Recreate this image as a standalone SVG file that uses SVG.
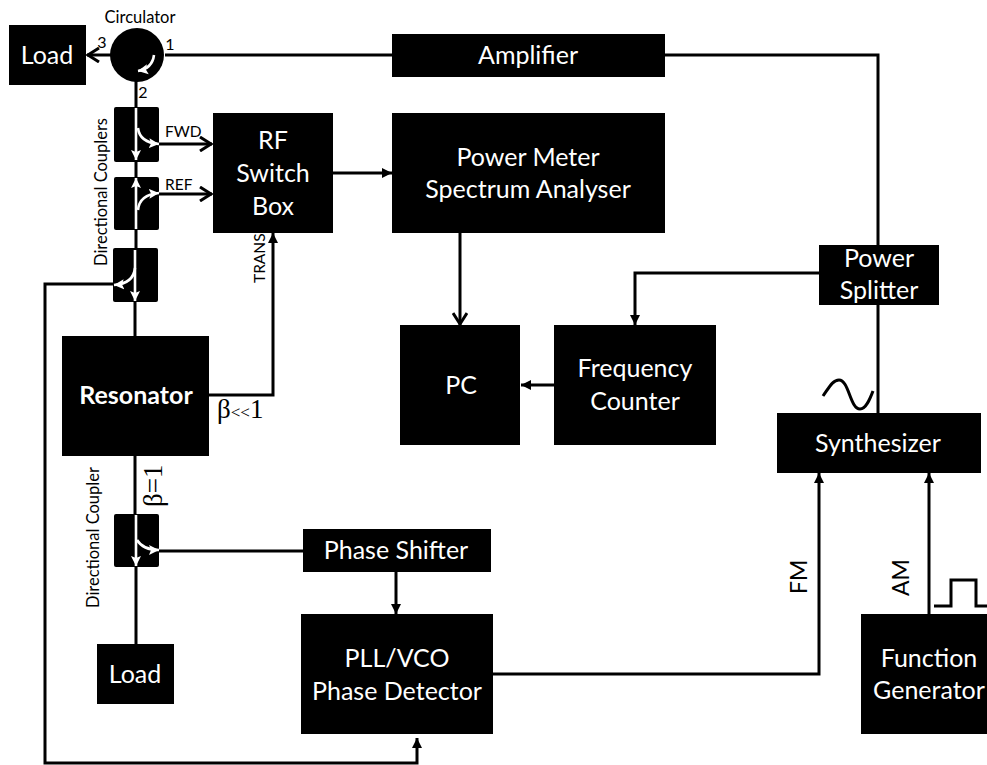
<svg xmlns="http://www.w3.org/2000/svg" width="987" height="765" viewBox="0 0 987 765">
<style>
text{font-family:"Lato","Open Sans","Liberation Sans",sans-serif;fill:#000}
.b{fill:#000}
.w{fill:#fff;font-size:25px;text-anchor:middle}
.l{fill:none;stroke:#000;stroke-width:3}
.a{fill:none;stroke:#fff;stroke-width:2.6}
.s{font-size:16.5px}
.d{font-size:16px;text-anchor:middle}
.g{font-family:"Liberation Serif",serif;font-size:27px}
</style>
<defs>
<marker id="k" markerUnits="userSpaceOnUse" markerWidth="16" markerHeight="16" refX="14" refY="8" orient="auto"><path d="M2 1L13 8L2 15" fill="none" stroke="#000" stroke-width="3"/></marker>
<marker id="t" markerUnits="userSpaceOnUse" markerWidth="12" markerHeight="12" refX="10" refY="6" orient="auto"><path d="M0 1L10 6L0 11Z" fill="#000"/></marker>
<marker id="wa" markerUnits="userSpaceOnUse" markerWidth="12" markerHeight="12" refX="10" refY="6" orient="auto"><path d="M0 1L10 6L0 11L2 6Z" fill="#fff"/></marker>
</defs>
<g id="connectors">
<path class="l" d="M392 55H165"/>
<path class="l" d="M111 55H87" marker-end="url(#k)"/>
<path class="l" d="M136 80V108M136 160V178M136 230V250M135 302V337"/>
<path class="l" d="M159 144H212" marker-end="url(#k)"/>
<path class="l" d="M159 194H212" marker-end="url(#k)"/>
<path class="l" d="M113 284H45V763H417V738" marker-end="url(#t)"/>
<path class="l" d="M208 395H273V233" marker-end="url(#t)"/>
<path class="l" d="M333 173H392" marker-end="url(#t)"/>
<path class="l" d="M665 55H878V246M878 304V414"/>
<path class="l" d="M819 273H635V325" marker-end="url(#t)"/>
<path class="l" d="M460 233V325" marker-end="url(#k)"/>
<path class="l" d="M554 385H521" marker-end="url(#t)"/>
<path class="l" d="M135 455V514M136 567V645"/>
<path class="l" d="M159 551H303"/>
<path class="l" d="M396 572V614" marker-end="url(#t)"/>
<path class="l" d="M493 674H819V473" marker-end="url(#t)"/>
<path class="l" d="M929 614V473" marker-end="url(#t)"/>
<path d="M823 396C830 386 833 380 839 380C849 380 850 409 860 409C866 409 870 399 873 391" fill="none" stroke="#000" stroke-width="3"/>
<path d="M934 606H951V580H976V606H987" fill="none" stroke="#000" stroke-width="3"/>
</g>
<g id="load1"><rect class="b" x="9" y="25" width="77" height="60"/><text class="w" x="47" y="64">Load</text></g>
<g id="circulator"><circle class="b" cx="137" cy="55" r="27"/><path class="a" d="M154 55C153 63 149 69 138 71" marker-end="url(#wa)"/>
<text x="140" y="23" text-anchor="middle" style="font-size:16.5px">Circulator</text>
<text class="d" x="102" y="48">3</text><text class="d" x="170" y="50">1</text><text class="d" x="143" y="98">2</text></g>
<g id="coupler1"><rect class="b" x="114" y="107" width="45" height="55" rx="2"/><path class="a" d="M136 108V160" marker-end="url(#wa)"/><path class="a" d="M138 128C139 137 146 143 159 144" marker-end="url(#wa)"/></g>
<g id="coupler2"><rect class="b" x="114" y="177" width="45" height="53" rx="2"/><path class="a" d="M136 229V178" marker-end="url(#wa)"/><path class="a" d="M138 210C139 200 146 194 159 193" marker-end="url(#wa)"/></g>
<g id="coupler3"><rect class="b" x="113" y="248" width="45" height="54" rx="2"/><path class="a" d="M135 250V301" marker-end="url(#wa)"/><path class="a" d="M135 268C134 278 128 284 114 285" marker-end="url(#wa)"/></g>
<g id="coupler4"><rect class="b" x="114" y="514" width="45" height="53" rx="2"/><path class="a" d="M136 515V566" marker-end="url(#wa)"/><path class="a" d="M137 540C140 545 147 550 159 550" marker-end="url(#wa)"/></g>
<g id="couplerLabels">
<text class="s" transform="translate(107 266) rotate(-90)">Directional Couplers</text>
<text class="s" transform="translate(99 608) rotate(-90)">Directional Coupler</text>
<text x="165" y="137" style="font-size:15.5px">FWD</text><text x="165" y="190" style="font-size:15.5px">REF</text>
<text transform="translate(265 283) rotate(-90)" style="font-size:15.5px">TRANS</text>
<text class="g" x="217" y="418">β<tspan font-size="17">&lt;&lt;</tspan>1</text>
<text class="g" transform="translate(162 507) rotate(-90)">β=1</text>
</g>
<g id="rfswitch"><rect class="b" x="213" y="113" width="120" height="120"/><text class="w" x="273" y="149">RF</text><text class="w" x="273" y="182">Switch</text><text class="w" x="273" y="215">Box</text></g>
<g id="amplifier"><rect class="b" x="392" y="34" width="273" height="43"/><text class="w" x="528" y="64">Amplifier</text></g>
<g id="powermeter"><rect class="b" x="392" y="113" width="273" height="120"/><text class="w" x="528" y="166">Power Meter</text><text class="w" x="528" y="198">Spectrum Analyser</text></g>
<g id="splitter"><rect class="b" x="819" y="245" width="120" height="60"/><text class="w" x="879" y="267">Power</text><text class="w" x="879" y="299">Splitter</text></g>
<g id="resonator"><rect class="b" x="62" y="336" width="147" height="120"/><text x="136" y="404" text-anchor="middle" style="font-size:25px;font-weight:700;fill:#fff">Resonator</text></g>
<g id="pc"><rect class="b" x="400" y="325" width="120" height="120"/><text class="w" x="461" y="394">PC</text></g>
<g id="counter"><rect class="b" x="554" y="325" width="162" height="120"/><text class="w" x="635" y="377">Frequency</text><text class="w" x="635" y="410">Counter</text></g>
<g id="synthesizer"><rect class="b" x="777" y="413" width="204" height="60"/><text class="w" x="878" y="452">Synthesizer</text></g>
<g id="phaseshifter"><rect class="b" x="303" y="529" width="188" height="43"/><text class="w" x="396" y="559">Phase Shifter</text></g>
<g id="pll"><rect class="b" x="301" y="614" width="192" height="120"/><text class="w" x="397" y="667">PLL/VCO</text><text class="w" x="397" y="700">Phase Detector</text></g>
<g id="load2"><rect class="b" x="97" y="644" width="77" height="60"/><text class="w" x="135" y="683">Load</text></g>
<g id="generator"><rect class="b" x="861" y="614" width="126" height="120"/><text class="w" x="929" y="667">Function</text><text class="w" x="929" y="699">Generator</text></g>
<g id="modLabels"><text transform="translate(807 594) rotate(-90)" style="font-size:23px">FM</text><text transform="translate(909 596) rotate(-90)" style="font-size:23px">AM</text></g>
</svg>
